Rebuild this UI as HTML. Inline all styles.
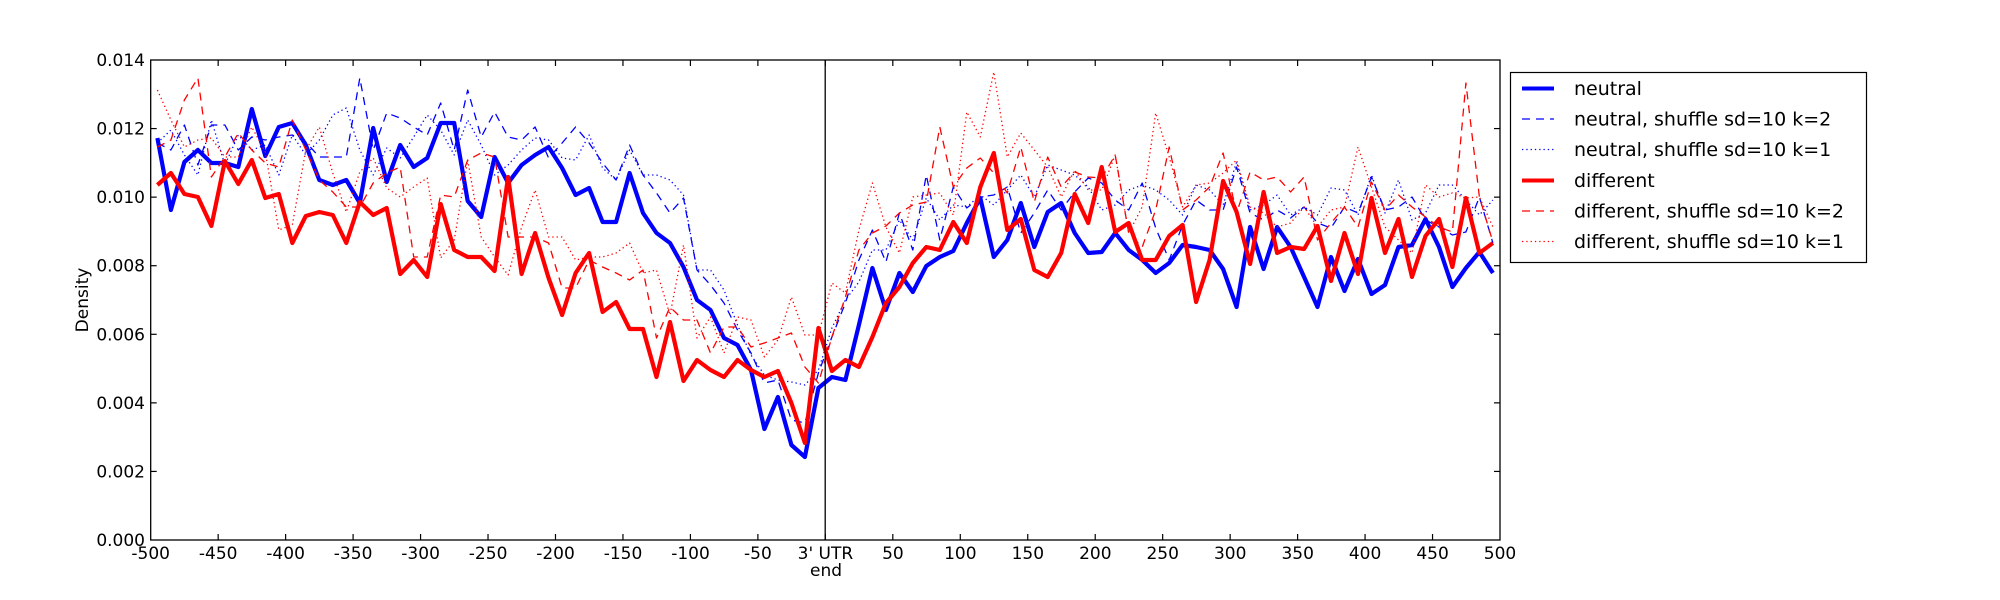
<!DOCTYPE html>
<html><head><meta charset="utf-8">
<style>
html,body{margin:0;padding:0;background:#fff;}
svg{display:block;}
text{font-family:"DejaVu Sans","Liberation Sans",sans-serif;fill:#000;}
</style></head>
<body>
<svg id="s" width="2000" height="600" viewBox="0 0 2000 600" xmlns="http://www.w3.org/2000/svg">
<rect width="2000" height="600" fill="#fff"/>
<g id="lines" fill="none" stroke-linejoin="round"></g>
<!-- vertical zero line -->
<line x1="825.2" y1="60" x2="825.2" y2="540" stroke="#000" stroke-width="1.3"/>
<!-- axes frame -->
<rect x="150.7" y="60" width="1349.3" height="480" fill="none" stroke="#000" stroke-width="1.3"/>
<g id="ticks" stroke="#000" stroke-width="1.2"></g>
<g font-size="17" text-anchor="end">
<text x="145" y="546">0.000</text>
<text x="145" y="477.4">0.002</text>
<text x="145" y="408.9">0.004</text>
<text x="145" y="340.3">0.006</text>
<text x="145" y="271.7">0.008</text>
<text x="145" y="203.1">0.010</text>
<text x="145" y="134.6">0.012</text>
<text x="145" y="66">0.014</text>
</g>
<g font-size="17" text-anchor="middle">
<text x="150.7" y="559">-500</text>
<text x="218.2" y="559">-450</text>
<text x="285.6" y="559">-400</text>
<text x="353.1" y="559">-350</text>
<text x="420.6" y="559">-300</text>
<text x="488.1" y="559">-250</text>
<text x="555.5" y="559">-200</text>
<text x="623" y="559">-150</text>
<text x="690.5" y="559">-100</text>
<text x="757.9" y="559">-50</text>
<text x="825.4" y="559">3' UTR</text>
<text x="892.9" y="559">50</text>
<text x="960.3" y="559">100</text>
<text x="1027.8" y="559">150</text>
<text x="1095.3" y="559">200</text>
<text x="1162.7" y="559">250</text>
<text x="1230.2" y="559">300</text>
<text x="1297.7" y="559">350</text>
<text x="1365.1" y="559">400</text>
<text x="1432.6" y="559">450</text>
<text x="1500" y="559">500</text>
<text x="826" y="576">end</text>
</g>
<text font-size="17" text-anchor="middle" transform="translate(88,300) rotate(-90)">Density</text>
<!-- legend -->
<rect x="1510.5" y="72.5" width="356" height="190" fill="#fff" stroke="#000" stroke-width="1.2"/>
<g stroke-width="1.3" fill="none">
<line x1="1522" y1="88.5" x2="1554" y2="88.5" stroke="#0000ff" stroke-width="4"/>
<line x1="1522" y1="119" x2="1554" y2="119" stroke="#0000ff" stroke-dasharray="8,6"/>
<line x1="1522" y1="149.5" x2="1554" y2="149.5" stroke="#0000ff" stroke-dasharray="1.3,3"/>
<line x1="1522" y1="180.5" x2="1554" y2="180.5" stroke="#ff0000" stroke-width="4"/>
<line x1="1522" y1="211" x2="1554" y2="211" stroke="#ff0000" stroke-dasharray="8,6"/>
<line x1="1522" y1="241.5" x2="1554" y2="241.5" stroke="#ff0000" stroke-dasharray="1.3,3"/>
</g>
<g font-size="19">
<text x="1574" y="95">neutral</text>
<text x="1574" y="125.5">neutral, shuffle sd=10 k=2</text>
<text x="1574" y="156">neutral, shuffle sd=10 k=1</text>
<text x="1574" y="187">different</text>
<text x="1574" y="217.5">different, shuffle sd=10 k=2</text>
<text x="1574" y="248">different, shuffle sd=10 k=1</text>
</g>
</svg>
<script>
var BS=[138,210,162,150,163,163,167,109,156,127,123,145,180,185,180,203,128,182,145,167,158,123,123,201,217,157,183,165,155,147,168,195,188,222,222,173,213,233,
243,267,300,310,338,345,370,429,397,445,457,388,377,380,325,
268,310,273,292,266,257,251,223,198,257,240,203,247,212,203,233,253,252,233,250,260,273,263,245,247,
250,269,307,227,269,227,247,277,307,257,291,259,294,285,247,245,219,247,287,268,252,273];
var RS=[185,173,194,197,226,161,184,160,198,194,243,216,212,215,243,202,215,208,274,260,277,204,250,257,257,271,177,274,233,278,315,273,253,312,302,329,329,377,
322,381,360,370,377,360,370,377,371,403,443,328,371,360,367,
337,303,287,263,247,250,222,243,187,153,230,219,270,277,253,194,223,167,232,223,260,260,236,225,302,
260,181,212,264,192,253,247,249,226,281,233,274,198,253,219,277,236,219,267,198,253,243];
var BD=[143,150,125,165,125,125,150,137,140,137,135,142,157,157,157,78,150,113,118,127,135,103,150,90,137,112,137,140,127,158,143,127,143,163,180,145,175,193,
213,198,270,285,303,330,353,383,380,420,423,373,337,303,260,230,
262,213,250,175,240,187,208,197,195,187,233,213,190,210,192,178,183,200,210,183,228,260,225,200,
210,210,167,213,220,210,218,207,223,228,207,213,177,210,207,197,220,227,235,232,197,243];
var BT=[143,130,155,175,120,165,135,150,145,175,135,155,140,115,108,150,175,148,158,137,115,130,155,120,145,175,165,150,138,140,158,160,135,168,180,150,175,175,180,195,
270,270,290,325,355,375,380,382,385,370,328,300,282,250,250,220,240,198,220,205,207,195,205,190,175,197,165,170,175,187,210,205,190,185,190,200,215,185,
190,205,162,210,205,195,215,207,215,188,190,215,175,213,180,220,213,185,185,200,215,200];
var RD=[147,140,100,78,177,157,133,150,163,167,120,150,180,192,207,207,183,173,167,257,257,195,197,160,153,157,237,237,237,243,288,288,260,267,273,280,270,
338,307,320,320,353,327,327,347,343,338,333,367,383,337,297,250,233,226,
213,205,202,127,187,168,158,173,193,147,202,157,187,172,177,178,155,233,247,210,147,210,200,
187,153,213,172,180,177,192,177,240,223,207,227,182,210,195,207,217,227,232,83,197,242];
var RT=[90,120,147,140,138,157,157,127,152,230,225,150,127,173,212,172,158,188,197,187,178,258,240,160,237,257,275,227,190,237,237,260,257,257,253,243,273,
270,315,245,338,317,353,317,320,357,340,297,335,335,283,293,230,
183,227,253,197,195,193,215,112,137,72,157,133,150,167,197,170,190,190,155,233,207,113,157,207,185,
183,173,160,207,213,227,223,207,227,210,207,147,187,227,240,253,185,197,193,198,197,227];
var NS="http://www.w3.org/2000/svg";
function pl(a,col,w,dash){
  var p=[];for(var k=0;k<a.length;k++){p.push((157.4+13.49*k).toFixed(1)+","+a[k]);}
  var e=document.createElementNS(NS,"polyline");
  e.setAttribute("points",p.join(" "));e.setAttribute("stroke",col);e.setAttribute("stroke-width",w);
  if(dash)e.setAttribute("stroke-dasharray",dash);
  document.getElementById("lines").appendChild(e);
}
pl(BS,"#0000ff",4.2);
pl(BD,"#0000ff",1.3,"8,6");
pl(BT,"#0000ff",1.3,"1.3,3");
pl(RS,"#ff0000",4.2);
pl(RD,"#ff0000",1.3,"8,6");
pl(RT,"#ff0000",1.3,"1.3,3");
var t=document.getElementById("ticks");
function ln(x1,y1,x2,y2){var e=document.createElementNS(NS,"line");e.setAttribute("x1",x1);e.setAttribute("y1",y1);e.setAttribute("x2",x2);e.setAttribute("y2",y2);t.appendChild(e);}
for(var i=1;i<20;i++){var x=150.7+i*67.465;ln(x,540,x,534);ln(x,60,x,66);}
for(var j=1;j<7;j++){var y=540-j*68.571;ln(150.7,y,156.7,y);ln(1500,y,1494,y);}
</script>
</body></html>
